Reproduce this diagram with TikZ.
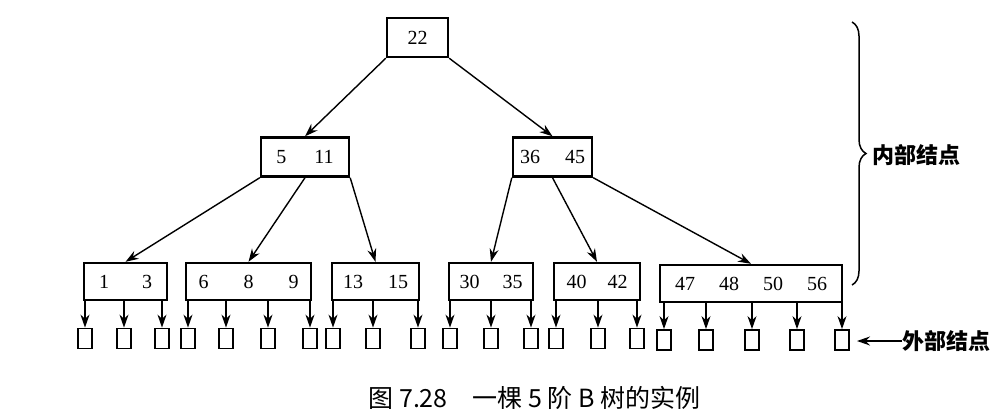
\documentclass[tikz,border=0pt]{standalone}
\usepackage{fontspec}
\setmainfont{Liberation Serif}
\newfontfamily\cjk{Noto Sans CJK SC}
\usetikzlibrary{arrows.meta,decorations.pathreplacing}
\newcommand{\kgap}[1]{\hspace{#1pt}}
\begin{document}
\begin{tikzpicture}[x=1pt,y=-1pt,
  key/.style={draw,line width=2.4pt,inner sep=0pt,minimum height=39pt,
    font=\fontsize{20}{20}\selectfont},
  leaf/.style={key,minimum height=37pt},
  ext/.style={draw,line width=1.8pt,minimum width=14pt,minimum height=20pt,inner sep=0pt},
  edge/.style={line width=1.4pt,-{Stealth[length=13pt,width=9pt]}},
  lab/.style={font=\cjk\bfseries\fontsize{22}{22}\selectfont,inner sep=0pt},
]
\useasboundingbox (0,0) rectangle (1004,418);

% internal nodes
\node[key,minimum width=61pt] (r) at (417.5,37.5) {22};
\node[key,minimum width=88pt] (a) at (305,157) {5\kgap{28}11};
\node[key,minimum width=79pt] (b) at (552.5,157) {36\kgap{25}45};

% lowest internal level
\node[leaf,minimum width=83pt]  (l1) at (125.5,281.5) {1\kgap{33}3};
\node[leaf,minimum width=125pt] (l2) at (248.5,281.5) {6\kgap{35}8\kgap{35}9};
\node[leaf,minimum width=87pt]  (l3) at (375.5,281.5) {13\kgap{25}15};
\node[leaf,minimum width=84pt]  (l4) at (491,281.5) {30\kgap{23}35};
\node[leaf,minimum width=86pt]  (l5) at (597,281.5) {40\kgap{21}42};
\node[leaf,minimum width=182pt] (l6) at (751,283.5) {47\kgap{24}48\kgap{24}50\kgap{24}56};

% tree edges
\draw[edge] (r.south west) -- (a.north);
\draw[edge] (r.south east) -- (b.north);
\draw[edge] (a.south west) -- (l1.north);
\draw[edge] (a.south) -- (l2.north);
\draw[edge] (a.south east) -- (l3.north);
\draw[edge] (b.south west) -- (l4.north);
\draw[edge] (b.south) -- (l5.north);
\draw[edge] (b.south east) -- (l6.north);

% external (failure) nodes
\foreach \x [count=\i] in {85,124,162} {
  \node[ext] (l1-\i) at (\x,338.5) {};
  \draw[edge] (l1.south -| l1-\i) -- (l1-\i.north);
}
\foreach \x [count=\i] in {188,226,268,310} {
  \node[ext] (l2-\i) at (\x,338.5) {};
  \draw[edge] (l2.south -| l2-\i) -- (l2-\i.north);
}
\foreach \x [count=\i] in {333,373,418} {
  \node[ext] (l3-\i) at (\x,338.5) {};
  \draw[edge] (l3.south -| l3-\i) -- (l3-\i.north);
}
\foreach \x [count=\i] in {450,491,531} {
  \node[ext] (l4-\i) at (\x,338.5) {};
  \draw[edge] (l4.south -| l4-\i) -- (l4-\i.north);
}
\foreach \x [count=\i] in {556,598,637} {
  \node[ext] (l5-\i) at (\x,338.5) {};
  \draw[edge] (l5.south -| l5-\i) -- (l5-\i.north);
}
\foreach \x [count=\i] in {664,706,752,797,842} {
  \node[ext] (l6-\i) at (\x,340) {};
  \draw[edge] (l6.south -| l6-\i) -- (l6-\i.north);
}

% brace for the internal levels
\coordinate (bt) at (852,22);
\coordinate (bb) at (852,285);
\draw[line width=1.5pt,decorate,decoration={brace,amplitude=14pt}] (bt) -- (bb);
\node[lab,anchor=west] (inl) at (872,155) {内部结点};

% label for the external nodes
\node[lab,anchor=west] (outl) at (902,341) {外部结点};
\coordinate (xp) at (857,341);
\draw[edge] (outl.west) -- (xp);

% caption
\node[font=\cjk\fontsize{25}{25}\selectfont,inner sep=0pt] (cap) at (534.5,398)
  {图 7.28\hspace{1em}一棵 5 阶 B 树的实例};
\end{tikzpicture}
\end{document}
